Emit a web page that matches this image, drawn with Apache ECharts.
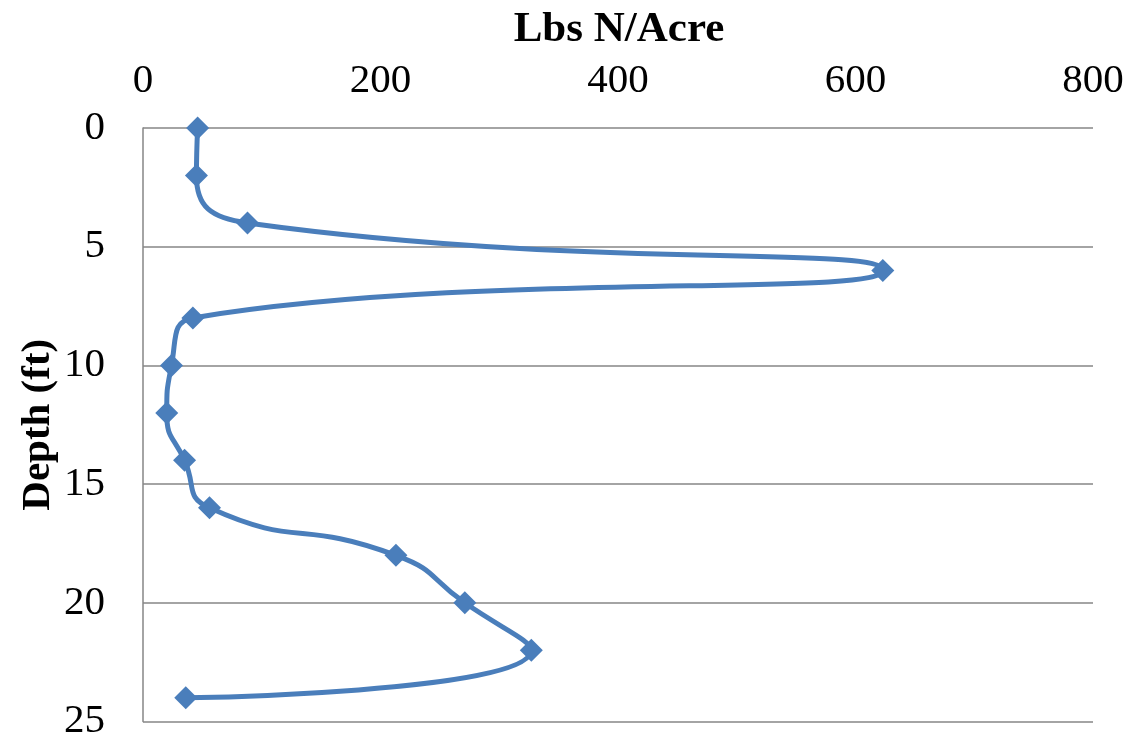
<!DOCTYPE html>
<html>
<head>
<meta charset="utf-8">
<script src="https://cdn.jsdelivr.net/npm/echarts@6/dist/echarts.min.js"></script>
<style>
html,body{margin:0;padding:0;background:#fff;}
#chart{width:1139px;height:742px;}
</style>
</head>
<body>
<div id="chart"></div>
<script>
const depthFt = [0, 2, 4, 6, 8, 10, 12, 14, 16, 18, 20, 22, 24];
const lbsNPerAcre = [46, 45, 88, 623, 42, 24, 20, 35, 56, 213, 271, 327, 36];
const xTitle = 'Lbs N/Acre';
const yTitle = 'Depth (ft)';

const points = depthFt.map((d, i) => [lbsNPerAcre[i], d]);
const font = '"Liberation Serif", "Times New Roman", serif';

const chart = echarts.init(document.getElementById('chart'), null, {renderer: 'canvas'});
chart.setOption({
  backgroundColor: '#ffffff',
  animation: false,
  title: {
    text: xTitle,
    left: 614, top: 3,
    textAlign: 'center',
    textStyle: {fontFamily: font, fontSize: 43, fontWeight: 'bold', color: '#000'}
  },
  grid: {left: 143, right: 46, top: 128, bottom: 19, containLabel: false},
  xAxis: {
    type: 'value', position: 'top',
    min: 0, max: 800, interval: 200,
    axisLine: {show: false},
    axisTick: {show: false},
    splitLine: {show: false},
    axisLabel: {fontFamily: font, fontSize: 41, color: '#000', margin: 26}
  },
  yAxis: {
    type: 'value', inverse: true,
    min: 0, max: 25, interval: 5,
    name: yTitle,
    nameLocation: 'middle',
    nameRotate: 90,
    nameGap: 84,
    nameMoveOverlap: false,
    nameTextStyle: {fontFamily: font, fontSize: 41, fontWeight: 'bold', color: '#000'},
    axisLine: {show: true, lineStyle: {color: '#868686', width: 1.5}},
    axisTick: {show: false},
    splitLine: {show: true, lineStyle: {color: '#868686', width: 1.5}},
    axisLabel: {fontFamily: font, fontSize: 41, color: '#000', margin: 38}
  },
  series: [{
    type: 'line',
    data: points,
    smooth: 0.55,
    clip: false,
    symbol: 'diamond',
    symbolSize: 23,
    itemStyle: {color: '#4a7ebb'},
    lineStyle: {color: '#4a7ebb', width: 5}
  }]
});
</script>
</body>
</html>
